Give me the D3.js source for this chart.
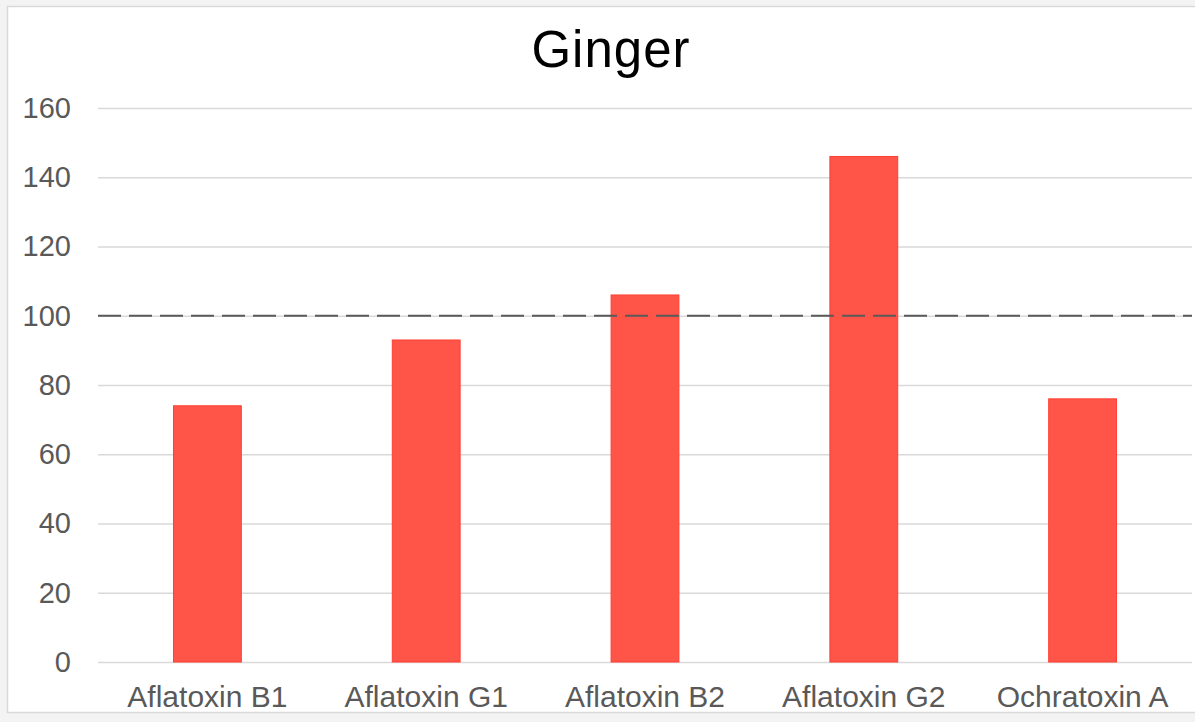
<!DOCTYPE html>
<html>
<head>
<meta charset="utf-8">
<script src="https://cdn.jsdelivr.net/npm/d3@7"></script>
<style>
  html, body { margin: 0; padding: 0; background: #f3f3f3; }
  svg { display: block; }
</style>
</head>
<body>
<svg id="chart" width="1195" height="722"></svg>
<script>
const title = "Ginger";
const categories = ["Aflatoxin B1", "Aflatoxin G1", "Aflatoxin B2", "Aflatoxin G2", "Ochratoxin A"];
const values = [74, 93, 106, 146, 76];
const yTicks = [0, 20, 40, 60, 80, 100, 120, 140, 160];
const referenceValue = 100;

const svg = d3.select("#chart");
const W = 1195, H = 722;
const margin = { left: 98, right: 3, top: 108, bottom: 60 };

// frame
svg.append("rect").attr("x", 7.5).attr("y", 6.5).attr("width", W).attr("height", 706)
  .attr("fill", "#ffffff").attr("stroke", "#d9d9d9").attr("stroke-width", 1.5);

const x = d3.scaleBand().domain(categories).range([margin.left, W - margin.right]).paddingInner(0.69).paddingOuter(0.345);
const y = d3.scaleLinear().domain([0, 160]).range([662, 108]);

// gridlines
const grid = d3.axisLeft(y).tickValues(yTicks).tickSize(-(W - margin.right - margin.left)).tickFormat("");
svg.append("g").attr("transform", `translate(${margin.left},0)`).call(grid)
  .call(g => g.select(".domain").remove())
  .call(g => g.selectAll("line").attr("stroke", "#d9d9d9").attr("stroke-width", 1.5));

// y-axis labels
svg.append("g").attr("transform", `translate(${margin.left},0)`)
  .call(d3.axisLeft(y).tickValues(yTicks).tickSize(0).tickPadding(27))
  .call(g => g.select(".domain").remove())
  .call(g => g.selectAll("text").attr("fill", "#595959")
    .style("font-family", "Liberation Sans, Arial, sans-serif").style("font-size", "29px"));

// bars
svg.append("g").selectAll("rect").data(values).join("rect")
  .attr("x", (d, i) => x(categories[i]))
  .attr("width", x.bandwidth())
  .attr("y", d => y(d))
  .attr("height", d => y(0) - y(d))
  .attr("fill", "#ff5549")
  .attr("stroke", "#ff3f33").attr("stroke-width", 1);

// x axis labels
svg.append("g").attr("transform", `translate(0,${y(0)})`)
  .call(d3.axisBottom(x).tickSize(0).tickPadding(24))
  .call(g => g.select(".domain").remove())
  .call(g => g.selectAll("text").attr("fill", "#595959")
    .style("font-family", "Liberation Sans, Arial, sans-serif").style("font-size", "30px"));

// reference dashed line
svg.append("line")
  .attr("x1", margin.left).attr("x2", W - margin.right)
  .attr("y1", y(referenceValue)).attr("y2", y(referenceValue))
  .attr("stroke", "#595959").attr("stroke-width", 2)
  .attr("stroke-dasharray", "23,8");

// title
svg.append("text").attr("x", 611).attr("y", 67).attr("text-anchor", "middle")
  .attr("fill", "#000000")
  .style("font-family", "Liberation Sans, Arial, sans-serif").style("font-size", "51px")
  .style("letter-spacing", "1px")
  .text(title);
</script>
</body>
</html>
